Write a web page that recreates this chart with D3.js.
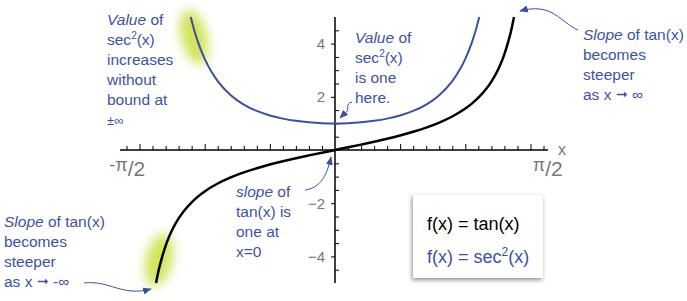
<!DOCTYPE html>
<html>
<head>
<meta charset="utf-8">
<script src="https://cdn.jsdelivr.net/npm/d3@7"></script>
<style>
  body { margin: 0; background: #fff; }
  svg { display: block; font-family: "Liberation Sans", Arial, sans-serif; }
</style>
</head>
<body>
<svg id="chart"></svg>
<script>
// sample points
var tanX = [-1.3734, -1.36, -1.35, -1.33, -1.3, -1.28, -1.25, -1.2, -1.15, -1.1, -1.05, -1.0, -0.9, -0.8, -0.7, -0.6, -0.5, -0.4, -0.3, -0.2, -0.1, 0,
            0.1, 0.2, 0.3, 0.4, 0.5, 0.6, 0.7, 0.8, 0.9, 1.0, 1.05, 1.1, 1.15, 1.2, 1.25, 1.28, 1.3, 1.33, 1.35, 1.36, 1.3734];
var tanY = [-5, -4.673, -4.455, -4.082, -3.602, -3.341, -3.010, -2.572, -2.234, -1.965, -1.743, -1.557, -1.260, -1.030, -0.842, -0.684, -0.546, -0.423, -0.309, -0.203, -0.100, 0,
            0.100, 0.203, 0.309, 0.423, 0.546, 0.684, 0.842, 1.030, 1.260, 1.557, 1.743, 1.965, 2.234, 2.572, 3.010, 3.341, 3.602, 4.082, 4.455, 4.673, 5];
var secX = [-1.107, -1.08, -1.05, -1.0, -0.95, -0.9, -0.8, -0.7, -0.6, -0.5, -0.4, -0.3, -0.2, -0.1, 0,
            0.1, 0.2, 0.3, 0.4, 0.5, 0.6, 0.7, 0.8, 0.9, 0.95, 1.0, 1.05, 1.08, 1.107];
var secY = [5, 4.501, 4.039, 3.426, 2.956, 2.588, 2.061, 1.709, 1.468, 1.298, 1.179, 1.096, 1.041, 1.010, 1,
            1.010, 1.041, 1.096, 1.179, 1.298, 1.468, 1.709, 2.061, 2.588, 2.956, 3.426, 4.039, 4.501, 5];

var yLabelTicks = [-4, -2, 2, 4];
var yMinorTicks = [-4.5, -3.5, -3, -2.5, -1.5, -1, -0.5, 0.5, 1, 1.5, 2.5, 3, 3.5, 4.5];
var xTicks = [-1.6, -1.5, -1.4, -1.3, -1.2, -1.1, -1.0, -0.9, -0.8, -0.7, -0.6, -0.5, -0.4, -0.3, -0.2, -0.1,
              0.1, 0.2, 0.3, 0.4, 0.5, 0.6, 0.7, 0.8, 0.9, 1.0, 1.1, 1.2, 1.3, 1.4, 1.5, 1.6];

var W = 687, H = 301;
var blue = "#3a51a3", textBlue = "#3d52a6", gray = "#777";

var svg = d3.select("#chart").attr("width", W).attr("height", H);

var x = d3.scaleLinear().domain([-1.5708, 1.5708]).range([130.3, 539.7]);
var y = d3.scaleLinear().domain([-5, 5]).range([283, 17]);

var defs = svg.append("defs");
defs.append("filter").attr("id", "glow").attr("x", "-100%").attr("y", "-100%").attr("width", "300%").attr("height", "300%")
  .append("feGaussianBlur").attr("stdDeviation", 5.5);
var sh = defs.append("filter").attr("id", "shadow").attr("x", "-20%").attr("y", "-20%").attr("width", "140%").attr("height", "150%");
sh.append("feDropShadow").attr("dx", -1).attr("dy", 2).attr("stdDeviation", 2).attr("flood-color", "#000").attr("flood-opacity", 0.45);
defs.append("marker").attr("id", "head")
  .attr("viewBox", "0 0 10 8").attr("refX", 9).attr("refY", 4)
  .attr("markerWidth", 9).attr("markerHeight", 7).attr("markerUnits", "userSpaceOnUse")
  .attr("orient", "auto")
  .append("path").attr("d", "M0,0 L10,4 L0,8 Z").attr("fill", blue);

// green glows
svg.append("ellipse").attr("cx", 194).attr("cy", 37).attr("rx", 13).attr("ry", 28)
  .attr("transform", "rotate(-14,194,37)").attr("fill", "#cde04a").attr("opacity", 0.9).attr("filter", "url(#glow)");
svg.append("ellipse").attr("cx", 159).attr("cy", 260).attr("rx", 13).attr("ry", 27)
  .attr("transform", "rotate(14,159,260)").attr("fill", "#cde04a").attr("opacity", 0.9).attr("filter", "url(#glow)");

// x axis
var xa = svg.append("g").attr("transform", "translate(0," + y(0) + ")");
xa.append("line").attr("x1", 120).attr("x2", 548).attr("stroke", "#000").attr("stroke-width", 1.5);
xa.call(d3.axisTop(x).tickValues(xTicks).tickSize(4).tickFormat(""));
xa.select(".domain").remove();
xa.selectAll(".tick line").attr("stroke", "#000")
  .attr("y2", function(d) { return Math.abs(Math.round(d * 10) % 5) === 0 ? -6 : -4; });

// y axis
var ya = svg.append("g").attr("transform", "translate(" + x(0) + ",0)");
ya.append("line").attr("y1", y(5)).attr("y2", y(-5)).attr("stroke", "#000").attr("stroke-width", 1.5);
var yMaj = ya.append("g").call(d3.axisLeft(y).tickValues(yLabelTicks).tickSize(4).tickPadding(6));
yMaj.select(".domain").remove();
yMaj.selectAll(".tick line").attr("stroke", "#000");
yMaj.selectAll(".tick text").attr("fill", gray).attr("font-size", 15).attr("font-family", "Liberation Sans, Arial, sans-serif");
var yMin = ya.append("g").call(d3.axisRight(y).tickValues(yMinorTicks).tickSize(4).tickFormat(""));
yMin.select(".domain").remove();
yMin.selectAll(".tick line").attr("stroke", "#000");

// axis labels
svg.append("text").attr("x", 558).attr("y", 155).attr("fill", gray).attr("font-size", 16).text("x");
var lpl = svg.append("text").attr("x", x(-1.5708) - 3).attr("y", 176).attr("text-anchor", "middle").attr("fill", gray);
lpl.append("tspan").attr("font-size", 18).attr("dy", -5).text("-π");
lpl.append("tspan").attr("font-size", 21).attr("dy", 5).text("/2");
var lpr = svg.append("text").attr("x", x(1.5708) + 8).attr("y", 176).attr("text-anchor", "middle").attr("fill", gray);
lpr.append("tspan").attr("font-size", 18).attr("dy", -5).text("π");
lpr.append("tspan").attr("font-size", 21).attr("dy", 5).text("/2");

// curves
var secData = secX.map(function(v, i) { return [v, secY[i]]; });
var tanData = tanX.map(function(v, i) { return [v, tanY[i]]; });
var line = d3.line().x(function(d) { return x(d[0]); }).y(function(d) { return y(d[1]); }).curve(d3.curveMonotoneX);
svg.append("path").datum(secData).attr("fill", "none").attr("stroke", blue).attr("stroke-width", 2).attr("d", line);
svg.append("path").datum(tanData).attr("fill", "none").attr("stroke", "#000").attr("stroke-width", 2.5).attr("d", line);

// annotations
function note(x0, y0, lines) {
  lines.forEach(function(parts, i) {
    var t = svg.append("text").attr("x", x0).attr("y", y0 + i * 20).attr("fill", textBlue).attr("font-size", 15.5);
    parts.forEach(function(p) {
      var s = t.append("tspan").text(p[0]);
      if (p[1] === "i") s.attr("font-style", "italic");
      if (p[1] === "sup") s.attr("font-size", 10).attr("dy", -6);
      if (p[1] === "after") s.attr("dy", 6);
      if (p[1] === "small") s.attr("font-size", 13);
      if (p[1] === "arrow") s.attr("font-size", 14).attr("dy", -1);
      if (p[1] === "afterArrow") s.attr("dy", 1);
    });
  });
}
note(107, 25, [[["Value", "i"], [" of"]], [["sec"], ["2", "sup"], ["(x)", "after"]], [["increases"]], [["without"]], [["bound at"]], [["±∞", "small"]]]);
note(355, 43, [[["Value", "i"], [" of"]], [["sec"], ["2", "sup"], ["(x)", "after"]], [["is one"]], [["here."]]]);
note(583, 40, [[["Slope", "i"], [" of tan(x)"]], [["becomes"]], [["steeper"]], [["as x "], ["➞", "arrow"], [" ∞", "afterArrow"]]]);
note(236, 197, [[["slope", "i"], [" of"]], [["tan(x) is"]], [["one at"]], [["x=0"]]]);
note(4, 227, [[["Slope", "i"], [" of tan(x)"]], [["becomes"]], [["steeper"]], [["as x "], ["➞", "arrow"], [" -∞", "afterArrow"]]]);

// arrows
var arrows = [
  "M578,30 C560,22 552,2 520,11",
  "M352,102 C344,104 351,110 345,113 L340,118",
  "M305,190 C320,188 327,176 331,157",
  "M84,283 C110,280 122,297 151,289"
];
svg.selectAll(".arrow").data(arrows).enter().append("path").attr("class", "arrow")
  .attr("d", function(d) { return d; }).attr("fill", "none").attr("stroke", blue).attr("stroke-width", 1)
  .attr("marker-end", "url(#head)");

// legend
svg.append("rect").attr("x", 413).attr("y", 195).attr("width", 130).attr("height", 83)
  .attr("fill", "#fff").attr("filter", "url(#shadow)");
svg.append("text").attr("x", 427).attr("y", 230).attr("font-size", 18).attr("fill", "#000").text("f(x) = tan(x)");
var l2 = svg.append("text").attr("x", 427).attr("y", 263).attr("font-size", 18).attr("fill", blue);
l2.append("tspan").text("f(x) = sec");
l2.append("tspan").attr("font-size", 12).attr("dy", -7).text("2");
l2.append("tspan").attr("dy", 7).text("(x)");
</script>
</body>
</html>
